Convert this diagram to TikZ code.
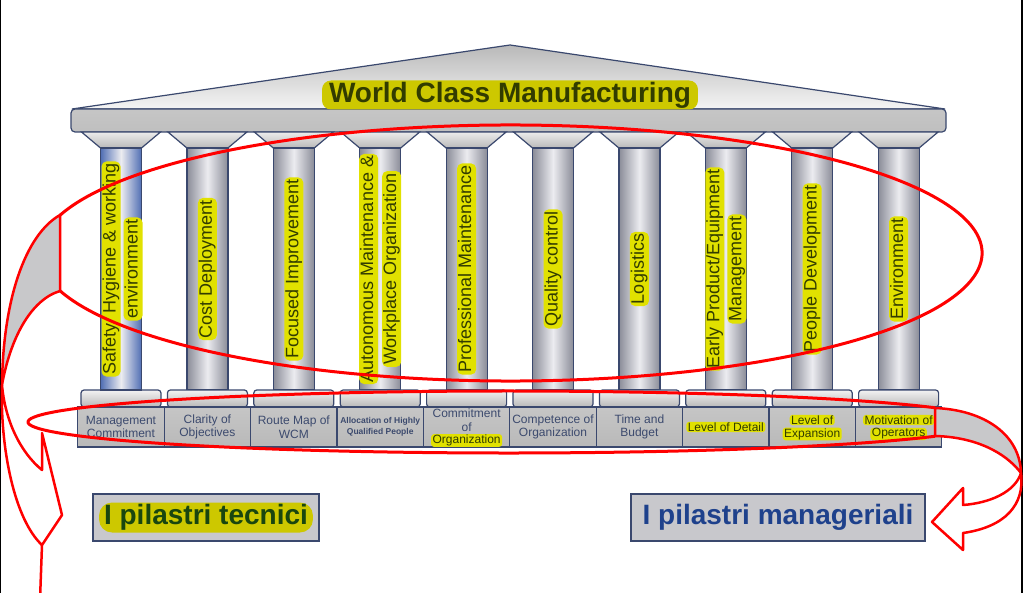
\documentclass[tikz,border=0pt]{standalone}
\usepackage{fontspec}
\setmainfont{Liberation Sans}
\definecolor{outl}{RGB}{58,72,110}
\definecolor{hly}{RGB}{225,225,0}
\definecolor{hlt}{RGB}{205,200,0}
\definecolor{olv}{RGB}{50,60,0}
\definecolor{btc}{RGB}{60,74,110}
\definecolor{grT}{RGB}{25,70,15}
\definecolor{blT}{RGB}{30,65,140}
\definecolor{redA}{RGB}{255,0,0}
\definecolor{crg}{RGB}{200,200,202}
\definecolor{boxg}{RGB}{200,200,204}
\definecolor{colg}{RGB}{138,140,152}
\definecolor{colw}{RGB}{236,236,240}
\definecolor{colb}{RGB}{80,110,180}
\begin{document}
\begin{tikzpicture}[x=1pt,y=-1pt,
  outline/.style={draw=outl, line width=1.2pt},
  capst/.style={outline, top color=gray!15, bottom color=gray!55},
  colst/.style={outline, left color=colg, right color=colg, middle color=colw},
  plst/.style={outline, rounded corners=3pt, top color=gray!10, bottom color=gray!55},
  lbst/.style={outline, top color=gray!45, middle color=gray!8, bottom color=gray!55},
  hl/.style={fill=hly, rounded corners=5pt, inner xsep=2pt, inner ysep=1pt, text=olv},
  coltxt/.style={hl, rotate=90, font=\fontsize{18}{20}\selectfont, text height=13pt, text depth=4pt},
  btxt/.style={text=btc, font=\fontsize{12}{13.5}\selectfont, align=center, inner sep=0pt},
  bhl/.style={btxt, fill=hly, text=olv, rounded corners=3pt, inner xsep=1.5pt, inner ysep=0.8pt},
  redl/.style={draw=redA, line width=2.5pt, line join=round}]
\useasboundingbox (0,0) rectangle (1024,593);
\clip (0,0) rectangle (1024,593);
\fill[white] (0,0) rectangle (1024,593);
\fill[black] (0,0) rectangle (1.4,593);
\fill[black] (1021,0) rectangle (1023,593);

% pediment and beam
\draw[outline, top color=gray!55, bottom color=gray!8] (72,109) -- (510,45) -- (945,109) -- cycle;
\draw[outline, rounded corners=4pt, top color=gray!45, middle color=gray!6, bottom color=gray!50] (71,109) rectangle (946,132);

% columns
\foreach \i in {0,...,9} {
  \pgfmathsetmacro\c{121+86.4*\i}
  \draw[capst] (\c-39.5,132) -- (\c+39.5,132) -- (\c+20.5,148) -- (\c-20.5,148) -- cycle;
  \draw[colst] (\c-20.5,148) rectangle (\c+20.5,390);
  \draw[plst] (\c-40,390) rectangle (\c+40,407);
  \draw[lbst] (\c-43.2,407) rectangle (\c+43.2,447);
}
\draw[outline, left color=colb, right color=colb, middle color=colw] (100.5,148) rectangle (141.5,390);

% title
\node[fill=hlt, rounded corners=9pt, inner xsep=7pt, inner ysep=2pt, text=olv,
  font=\bfseries\fontsize{28}{30}\selectfont, text height=20pt, text depth=5pt] (title) at (510,95) {World Class Manufacturing};

% column texts
\node[coltxt] (p1a) at (111,269) {Safety\ \ Hygiene \& working};
\node[coltxt] (p1b) at (133,269) {environment};
\node[coltxt] (p2) at (207.4,269) {Cost Deployment};
\node[coltxt] (p3) at (293.8,269) {Focused Improvement};
\node[coltxt] (p4a) at (368.7,269) {Autonomous Maintenance \&};
\node[coltxt] (p4b) at (391.7,269) {Workplace Organization};
\node[coltxt] (p5) at (466.6,269) {Professional Maintenance};
\node[coltxt] (p6) at (553,269) {Quality control};
\node[coltxt] (p7) at (639.4,269) {Logistics};
\node[coltxt] (p8a) at (714.8,269) {Early Product/Equipment};
\node[coltxt] (p8b) at (736.8,269) {Management};
\node[coltxt] (p9) at (812.2,269) {People Development};
\node[coltxt] (p10) at (898.6,269) {Environment};

% base texts
\node[btxt] (b1) at (121,427) {Management\\Commitment};
\node[btxt] (b2) at (207.4,427) {Clarity of\\Objectives};
\node[btxt] (b3) at (293.8,427) {Route Map of\\WCM};
\node[btxt, font=\bfseries\fontsize{8.5}{11}\selectfont] (b4) at (380.2,427) {Allocation of Highly\\Qualified People};
\node[btxt] (b5) at (466.6,420) {Commitment\\of};
\node[bhl] (b5h) at (466.6,440.5) {Organization};
\node[btxt] (b6) at (553,427) {Competence of\\Organization};
\node[btxt] (b7) at (639.4,427) {Time and\\Budget};
\node[bhl] (b8) at (725.8,427) {Level of Detail};
\node[bhl] (b9a) at (812.2,420) {Level of};
\node[bhl] (b9b) at (812.2,434) {Expansion};
\node[bhl] (b10a) at (898.6,420) {Motivation of};
\node[bhl] (b10b) at (898.6,434) {Operators};

% bottom label boxes
\node[draw=outl, line width=2pt, fill=boxg, minimum width=226pt, minimum height=47pt] (tecbox) at (206,517.5) {};
\node[fill=hlt, rounded corners=13pt, inner xsep=5pt, inner ysep=2pt, text=grT,
  font=\bfseries\fontsize{28}{30}\selectfont, text height=20pt, text depth=6pt] (tec) at (tecbox.center) {I pilastri tecnici};
\node[draw=outl, line width=2pt, fill=boxg, minimum width=294pt, minimum height=47pt] (manbox) at (778,517.5) {};
\node[text=blT, font=\bfseries\fontsize{28}{30}\selectfont, text height=20pt, text depth=6pt] (man) at (manbox.center) {I pilastri manageriali};

% red ellipses
\draw[redl, line width=3pt] ([shift={(197.2:471.5 and 128)}]510.5,253) arc[start angle=197.2, end angle=522.8, x radius=471.5, y radius=128];
\draw[redl, line width=3pt] ([shift={(-27.4:480.4 and 31)}]508.4,422) arc[start angle=-27.4, end angle=-332.6, x radius=480.4, y radius=31];

% right curved arrow
\filldraw[redl, fill=crg] (935,408) .. controls (985,410) and (1020,435) .. (1021,473) .. controls (1005,452) and (975,437) .. (935,436) -- cycle;
\draw[redl] (1021,473) .. controls (1015,492) and (990,503) .. (963,505) -- (963,488) -- (932,522) -- (963,550) -- (963,533) .. controls (1005,527) and (1025,505) .. (1021,473);

% left curved arrow
\filldraw[redl, fill=crg] (60,215) .. controls (25,235) and (3,300) .. (2,385) .. controls (10,340) and (30,300) .. (60,291) -- cycle;
\draw[redl] (2,385) .. controls (5,420) and (20,452) .. (42,470) -- (42,433) -- (62,515) -- (42,545) .. controls (15,520) and (0,450) .. (2,385);
\draw[redl] (42,545) -- (40,600);
\end{tikzpicture}
\end{document}
